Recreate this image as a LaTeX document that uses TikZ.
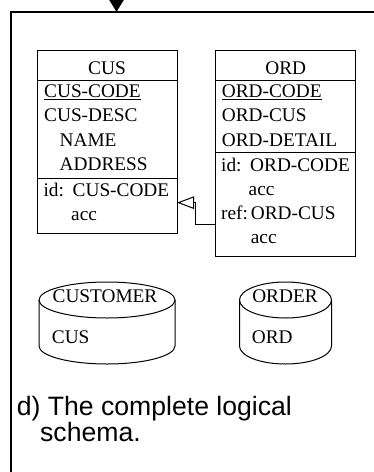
\documentclass[tikz,border=0pt]{standalone}
\usepackage{fontspec}
\setmainfont{Liberation Serif}
\setsansfont{Liberation Sans}
\usetikzlibrary{arrows.meta}
\usetikzlibrary{positioning, calc}
\tikzset{
	compart/.style={draw, line width=1pt, anchor=north west, minimum width=140pt, inner sep=0pt, outer sep=0pt},
	attr/.style={anchor=base west, inner sep=0pt, font=\fontsize{19.3}{23}\selectfont},
	title/.style={anchor=base, inner sep=0pt, font=\fontsize{19.3}{23}\selectfont},
	refarrow/.style={-{Triangle[open, length=17pt, width=12.5pt]}, line width=1pt},
	disk/.style={line width=1pt}
}

\begin{document}
\begin{tikzpicture}[x=1pt, y=-1pt]
	\useasboundingbox (0,0) rectangle (374,472);
	\draw[line width=2pt] (11,472) -- (11,12) -- (380,12);
	\coordinate (above) at (116.5,-20);
	\coordinate (frame) at (116.5,12);
	\draw[-{Triangle[length=12pt, width=14pt]}, line width=2pt] (above) -- (frame);

	\node[compart, minimum height=30.7pt] (cushead) at (37,50) {};
	\node[compart, minimum height=97.6pt] (cusattr) at (cushead.south west) {};
	\node[compart, minimum height=54.7pt] (cuskeys) at (cusattr.south west) {};
	\node[title] (custitle) at (107,74) {CUS};
	\node[attr] (cuscode) at (44,97.7) {\underline{CUS-CODE}};
	\node[attr] (cusdesc) at (44,121.9) {CUS-DESC};
	\node[attr] (cusname) at (59.5,146.1) {NAME};
	\node[attr] (cusaddr) at (59.5,170.3) {ADDRESS};
	\node[attr] (cusid) at (43.3,196) {id:};
	\node[attr] (cusidcode) at (72.5,196) {CUS-CODE};
	\node[attr] (cusacc) at (71,220) {acc};

	\node[compart, minimum height=30.7pt] (ordhead) at (215.7,50) {};
	\node[compart, minimum height=72pt] (ordattr) at (ordhead.south west) {};
	\node[compart, minimum height=104pt] (ordkeys) at (ordattr.south west) {};
	\node[title] (ordtitle) at (285.7,74) {ORD};
	\node[attr] (ordcode) at (221.7,97.7) {\underline{ORD-CODE}};
	\node[attr] (ordcus) at (221.7,121.9) {ORD-CUS};
	\node[attr] (orddetail) at (221.7,146.1) {ORD-DETAIL};
	\node[attr] (ordid) at (221,171) {id:};
	\node[attr] (ordidcode) at (250,171) {ORD-CODE};
	\node[attr] (ordidacc) at (248.5,195) {acc};
	\node[attr] (ordref) at (221,219) {ref:};
	\node[attr] (ordrefcus) at (250.7,219) {ORD-CUS};
	\node[attr] (ordrefacc) at (250.7,243.3) {acc};

	\coordinate (refbend) at ($(cuskeys.east)+(18,-3)$);
	\draw[refarrow] ($(ordkeys.west)+(0,20)$) -| (refbend) -- (cuskeys.east |- refbend);

	\draw[disk] (107,300) ellipse [x radius=68, y radius=18];
	\draw[disk] (39,300) -- (39,346) arc[start angle=180, end angle=0, x radius=68, y radius=18] -- (175,300);
	\node[title] (customer) at (105,302.5) {CUSTOMER};
	\node[attr] (cusfile) at (51.7,343) {CUS};

	\draw[disk] (285.5,300) ellipse [x radius=46, y radius=18];
	\draw[disk] (239.5,300) -- (239.5,346) arc[start angle=180, end angle=0, x radius=46, y radius=18] -- (331.5,300);
	\node[title] (order) at (285,302.5) {ORDER};
	\node[attr] (ordfile) at (251.7,343) {ORD};

	\node[anchor=base west, inner sep=0pt, align=left, font=\sffamily\fontsize{26.6}{24}\selectfont] (caption) at (16.7,441) {d) The complete logical\\\hspace*{23.3pt}schema.};
\end{tikzpicture}
\end{document}
